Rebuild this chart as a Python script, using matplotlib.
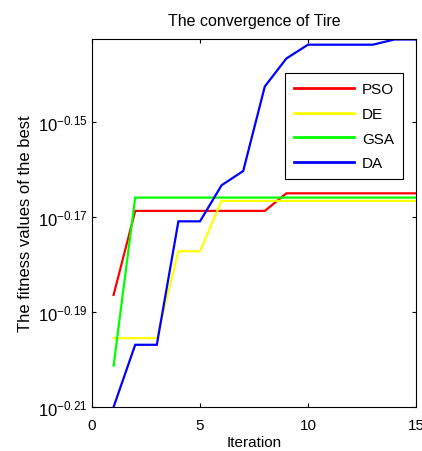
import matplotlib
matplotlib.use("Agg")
import matplotlib.pyplot as plt
import numpy as np

plt.rcParams.update({
    "font.family": ["Liberation Sans", "DejaVu Sans"],
    "font.size": 10,
    "mathtext.fontset": "custom",
    "mathtext.rm": "Liberation Sans",
    "mathtext.it": "Liberation Sans:italic",
    "mathtext.bf": "Liberation Sans:bold",
    "axes.unicode_minus": False,
})

# data (log10 of the fitness values)
iterations = list(range(1, 16))
pso_log = [-0.1864] + [-0.1687] * 7 + [-0.1650] * 7
de_log = [-0.1955] * 3 + [-0.1772] * 2 + [-0.1666] * 10
gsa_log = [-0.2013] + [-0.1659] * 14
da_log = [-0.2100, -0.1969, -0.1969, -0.1709, -0.1709, -0.1633, -0.1603,
          -0.1425, -0.1366, -0.1337, -0.1337, -0.1337, -0.1337, -0.1326, -0.1326]

series = [("PSO", pso_log, "#FF0000"),
          ("DE", de_log, "#FFFF00"),
          ("GSA", gsa_log, "#00FF00"),
          ("DA", da_log, "#0000FF")]

ytick_exp = [-0.21, -0.19, -0.17, -0.15]
xticks = [0, 5, 10, 15]

fig = plt.figure(figsize=(4.22, 4.52), dpi=100)
ax = fig.add_axes([92 / 422, 1 - 408 / 452, (416 - 92) / 422, (408 - 40) / 452])

for name, vals, col in series:
    ax.plot(iterations, 10 ** np.array(vals), color=col, lw=1.6, label=name,
            solid_joinstyle="miter")

ax.set_yscale("log")
ax.set_xlim(0, 15)
ax.set_ylim(10 ** -0.21, 10 ** -0.1325)
ax.set_xticks(xticks)
ax.set_xticklabels([str(t) for t in xticks], fontsize=11)
ax.set_yticks([10 ** e for e in ytick_exp])
ax.set_yticklabels([r"$\mathrm{10}^{\mathrm{%s}}$" % f"{e:.2f}" for e in ytick_exp],
                   fontsize=12)
ax.yaxis.set_minor_locator(matplotlib.ticker.NullLocator())
ax.tick_params(direction="in", length=3, width=0.8, top=True, right=True)
ax.tick_params(axis="x", pad=8)
for s in ax.spines.values():
    s.set_linewidth(0.8)

ax.set_title("The convergence of Tire", fontsize=11.5, pad=10)
ax.set_xlabel("Iteration", fontsize=11, labelpad=2)
ax.set_ylabel("The fitness values of the best", fontsize=12, labelpad=3)

leg = ax.legend(loc="upper left", bbox_to_anchor=(285 / 422, 1 - 74 / 452),
                bbox_transform=fig.transFigure, fontsize=11, frameon=True,
                fancybox=False, edgecolor="black", framealpha=1,
                handlelength=3.9, handletextpad=0.55, labelspacing=0.7,
                borderpad=0.6, borderaxespad=0)
leg.get_frame().set_linewidth(0.8)
for line in leg.get_lines():
    line.set_linewidth(2)

fig.savefig("out.png", dpi=100)
